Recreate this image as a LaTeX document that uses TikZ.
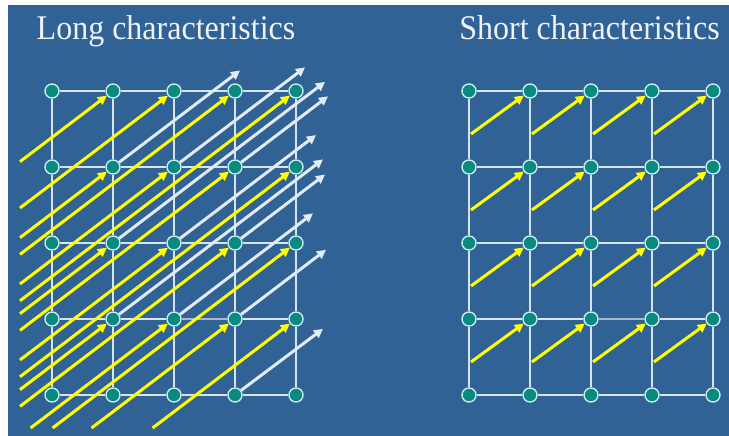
\documentclass[tikz,border=0pt]{standalone}
\usepackage{fontspec}
\setmainfont{Liberation Serif}
\usepackage{graphicx}
\usetikzlibrary{arrows.meta}
\definecolor{bg}{RGB}{49,98,150}
\definecolor{tealc}{RGB}{8,138,126}
\definecolor{ring}{RGB}{200,235,240}
\definecolor{gridc}{RGB}{215,228,238}
\definecolor{ylw}{RGB}{255,255,0}
\definecolor{wht}{RGB}{225,235,245}
\definecolor{txt}{RGB}{238,242,250}
\definecolor{grayseg}{RGB}{170,185,200}
\begin{document}
\begin{tikzpicture}[x=1pt,y=-1pt,
  pt/.style={circle,fill=tealc,draw=ring,line width=1.4pt,minimum size=14pt,inner sep=0pt},
  gridline/.style={draw=gridc,line width=1.2pt},
  thickseg/.style={draw=grayseg,line width=2.4pt},
  yarrow/.style={draw=ylw,fill=ylw,line width=3pt,-{Triangle[length=9pt,width=9pt]}},
  warrow/.style={draw=wht,fill=wht,line width=3pt,-{Triangle[length=9pt,width=9pt]}},
  title/.style={txt,font=\fontsize{32}{36}\selectfont,inner sep=0pt,anchor=base}]
\useasboundingbox (0,0) rectangle (729,436);
\fill[white] (0,0) rectangle (729,436);
\fill[bg] (8,5) rectangle (729,436);
% titles
\node[title] (t1) at (166,40) {\scalebox{1}[1.08]{Long characteristics}};
\node[title] (t2) at (589.5,40) {\scalebox{1}[1.08]{Short characteristics}};
% nodes
\foreach \i/\x in {0/52,1/113,2/174,3/235,4/296}
  \foreach \j/\y in {0/395,1/319,2/243,3/167,4/91}
    \node[pt] (L\i\j) at (\x,\y) {};
\foreach \i/\x in {0/469,1/530,2/591,3/652,4/713}
  \foreach \j/\y in {0/395,1/319,2/243,3/167,4/91}
    \node[pt] (R\i\j) at (\x,\y) {};
% grid lines (vertical)
\foreach \i in {0,1,2,3,4}
  \foreach \j/\k in {0/1,1/2,2/3,3/4}{
    \draw[gridline] (L\i\j) -- (L\i\k);
    \draw[gridline] (R\i\j) -- (R\i\k);
  }
% grid lines (horizontal)
\foreach \j in {0,1,2,3,4}
  \foreach \i/\k in {0/1,1/2,2/3,3/4}{
    \draw[gridline] (L\i\j) -- (L\k\j);
    \draw[gridline] (R\i\j) -- (R\k\j);
  }
\draw[thickseg] (L21) -- (L31);
\draw[thickseg] (R21) -- (R31);
% long characteristics: yellow (upstream)
\foreach \n/\sx/\sy in {14/20/161.7, 13/20/237.7, 12/20/313.7, 11/20/389.7,
    24/20/208, 23/20/284, 22/20/360, 21/30.6/428,
    34/20/254.4, 33/20/330.4, 32/20/406.4, 31/91.6/428,
    44/20/300.8, 43/20/376.8, 42/52.6/428, 41/152.6/428}
  \draw[yarrow] (\sx,\sy) coordinate (ys\n) -- (L\n);
% long characteristics: white (downstream)
\foreach \n/\ex/\ey in {13/240/70.5, 23/305/67.4, 33/328/96.3,
    12/325/81.9, 22/316/135.1, 32/325/174.6,
    11/323/159.4, 21/313/213.4, 31/326/249.8, 30/323/328.9}
  \draw[warrow] (L\n) -- (\ex,\ey) coordinate (we\n);
% short characteristics
\foreach \i/\k in {0/1,1/2,2/3,3/4}
  \foreach \j in {1,2,3,4}
    \draw[yarrow] ([shift={(2,43)}]R\i\j.center) coordinate (ss\i\j) -- (R\k\j);
\end{tikzpicture}
\end{document}
